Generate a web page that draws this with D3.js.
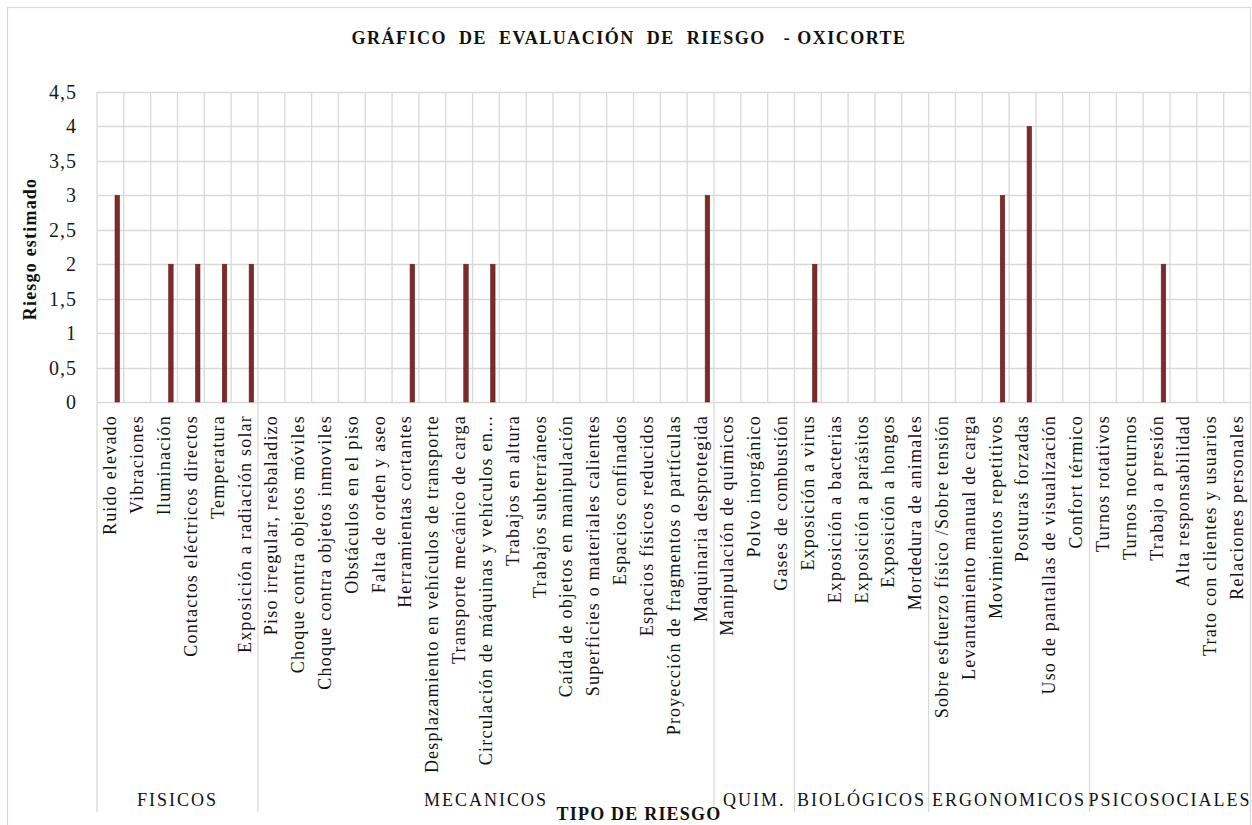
<!DOCTYPE html>
<html><head><meta charset="utf-8">
<script src="https://cdn.jsdelivr.net/npm/d3@7"></script>
<style>body{margin:0;background:#fff}svg{display:block}</style>
</head><body>
<svg id="c" width="1252" height="825"></svg>
<script>
const categories = ["Ruido elevado","Vibraciones","Iluminación","Contactos eléctricos directos","Temperatura","Exposición a radiación solar",
"Piso irregular, resbaladizo","Choque contra objetos móviles","Choque contra objetos inmoviles","Obstáculos en el piso","Falta de orden y aseo","Herramientas cortantes","Desplazamiento en vehículos de transporte","Transporte mecánico de carga","Circulación de máquinas y vehículos en...","Trabajos en altura","Trabajos subterráneos","Caída de objetos en manipulación","Superficies o materiales calientes","Espacios confinados","Espacios físicos reducidos","Proyección de fragmentos o  partículas","Maquinaria desprotegida",
"Manipulación de químicos","Polvo inorgánico","Gases de combustión",
"Exposición a virus","Exposición a bacterias","Exposición a parásitos","Exposición a hongos","Mordedura de animales",
"Sobre esfuerzo físico /Sobre tensión","Levantamiento manual de carga","Movimientos repetitivos","Posturas forzadas","Uso de pantallas de visualización","Confort térmico",
"Turnos rotativos","Turnos nocturnos","Trabajo  a presión","Alta responsabilidad","Trato con clientes y usuarios","Relaciones personales"];
const values = [3,0,2,2,2,2,
0,0,0,0,0,2,0,2,2,0,0,0,0,0,0,0,3,
0,0,0,
2,0,0,0,0,
0,0,3,4,0,0,
0,0,2,0,0,0];
const groups = ["FISICOS","MECANICOS","QUIM.","BIOLÓGICOS","ERGONOMICOS","PSICOSOCIALES"];
const groupSizes = [6,17,3,5,6,6];
const yTicks = [0,0.5,1,1.5,2,2.5,3,3.5,4,4.5];
const title = "GRÁFICO  DE  EVALUACIÓN  DE  RIESGO   - OXICORTE";
const yTitle = "Riesgo estimado";
const xTitle = "TIPO DE RIESGO";

const FONT = '"Liberation Serif","Times New Roman",serif';
const svg = d3.select("#c");
const L = 97, R = 1250.5, T = 92, B = 402;
const x = d3.scaleBand().domain(d3.range(categories.length)).range([L, R]).padding(0);
const y = d3.scaleLinear().domain([0, 4.5]).range([B, T]);
const grid = "#d9d9d9";

svg.append("rect").attr("x",7.5).attr("y",7.5).attr("width",1243).attr("height",830)
  .attr("fill","none").attr("stroke",grid).attr("stroke-width",1.2);

svg.append("g").selectAll("line").data(yTicks).join("line")
  .attr("x1",L).attr("x2",R).attr("y1",d=>Math.round(y(d))+0.5).attr("y2",d=>Math.round(y(d))+0.5)
  .attr("stroke",grid).attr("stroke-width",1.3);

const bounds = d3.range(categories.length+1).map(i => i < categories.length ? x(i) : R);
svg.append("g").selectAll("line").data(bounds).join("line")
  .attr("x1",d=>d).attr("x2",d=>d).attr("y1",T).attr("y2",B)
  .attr("stroke",grid).attr("stroke-width",1.3);

let cum = [0]; groupSizes.forEach(s => cum.push(cum[cum.length-1]+s));
const gx = i => i < categories.length ? x(i) : R;
svg.append("g").selectAll("line").data(cum).join("line")
  .attr("x1",gx).attr("x2",gx).attr("y1",B).attr("y2",812).attr("stroke",grid).attr("stroke-width",1.3);

svg.append("g").selectAll("text").data(yTicks).join("text")
  .attr("x",77).attr("y",d=>y(d)).attr("dy","0.35em").attr("text-anchor","end")
  .style("font-family",FONT).attr("font-size",20).attr("letter-spacing","1px").attr("fill","#1a1a1a")
  .text(d=>String(d).replace(".",","));

const bw = 4.5;
svg.append("g").selectAll("rect").data(values).join("rect")
  .attr("x",(d,i)=>x(i)+x.bandwidth()*0.755-bw/2)
  .attr("y",d=>y(d)).attr("width",bw).attr("height",d=>B-y(d))
  .attr("fill",d=>d>0?"#7d2a2a":"none").attr("stroke",d=>d>0?"#6a2020":"none").attr("stroke-width",0.6);

svg.append("g").selectAll("text").data(categories).join("text")
  .attr("transform",(d,i)=>`translate(${x(i)+x.bandwidth()/2+6},415) rotate(-90)`)
  .attr("text-anchor","end").style("font-family",FONT).attr("font-size",18)
  .attr("letter-spacing","1.2px").attr("fill","#111").text(d=>d);

svg.append("g").selectAll("text").data(groups).join("text")
  .attr("x",(d,i)=>(gx(cum[i])+gx(cum[i+1]))/2)
  .attr("y",806).attr("text-anchor","middle").style("font-family",FONT).attr("font-size",18)
  .attr("letter-spacing","2px").attr("fill","#111").text(d=>d);

svg.append("text").attr("x",629).attr("y",44).attr("text-anchor","middle")
  .style("font-family",FONT).attr("font-weight","bold").attr("font-size",18).attr("letter-spacing","1.5px")
  .attr("fill","#111").style("white-space","pre").text(title);
svg.append("text").attr("transform","translate(36,249) rotate(-90)").attr("text-anchor","middle")
  .style("font-family",FONT).attr("font-weight","bold").attr("font-size",18).attr("letter-spacing","1.2px")
  .attr("fill","#111").text(yTitle);
svg.append("text").attr("x",639).attr("y",820).attr("text-anchor","middle")
  .style("font-family",FONT).attr("font-weight","bold").attr("font-size",18).attr("letter-spacing","1.2px")
  .attr("fill","#111").text(xTitle);
</script>
</body></html>
